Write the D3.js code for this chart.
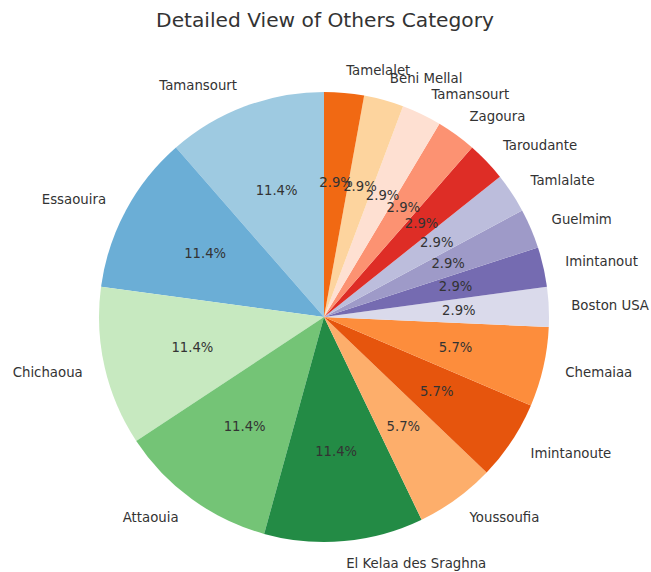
<!DOCTYPE html>
<html>
<head>
<meta charset="utf-8">
<script src="https://cdn.jsdelivr.net/npm/d3@7/dist/d3.min.js"></script>
<style>
  html, body { margin: 0; padding: 0; background: #fff; }
  svg { display: block; }
  text { font-family: "DejaVu Sans", sans-serif; fill: #333; }
</style>
</head>
<body>
<svg id="chart" width="651" height="572"></svg>
<script>
// Cities in the "Others" group, counted counter-clockwise from 12 o'clock
const categories = [
  "Tamansourt", "Essaouira", "Chichaoua", "Attaouia", "El Kelaa des Sraghna",
  "Youssoufia", "Imintanoute", "Chemaiaa", "Boston USA", "Imintanout",
  "Guelmim", "Tamlalate", "Taroudante", "Zagoura", "Tamansourt",
  "Beni Mellal", "Tamelalet"
];
const counts = [4, 4, 4, 4, 4, 2, 2, 2, 1, 1, 1, 1, 1, 1, 1, 1, 1];
const colors = [
  "#9ecae1", "#6baed6", "#c7e9c0", "#74c476", "#238b45",
  "#fdae6b", "#e6550d", "#fd8d3c", "#dadaeb", "#756bb1",
  "#9e9ac8", "#bcbddc", "#de2d26", "#fc9272", "#fee0d2",
  "#fdd49e", "#f16913"
];
const title = "Detailed View of Others Category";

const svg = d3.select("#chart");
const cx = 324, cy = 317, r = 225;

svg.append("text")
  .attr("x", 325).attr("y", 27)
  .attr("text-anchor", "middle")
  .style("font-size", "20.2px")
  .text(title);

const data = categories.map((c, i) => ({ name: c, value: counts[i], color: colors[i] }));
const total = d3.sum(counts);

const pie = d3.pie().value(d => d.value).sort(null)
  .startAngle(0).endAngle(-2 * Math.PI);
const arcs = pie(data);
const arc = d3.arc().innerRadius(0).outerRadius(r);

const g = svg.append("g").attr("transform", `translate(${cx},${cy})`);

g.selectAll("path.slice")
  .data(arcs)
  .join("path")
  .attr("class", "slice")
  .attr("d", arc)
  .attr("fill", d => d.data.color);

const mid = d => (d.startAngle + d.endAngle) / 2;

// Percentage labels inside each wedge
g.selectAll("text.pct")
  .data(arcs)
  .join("text")
  .attr("class", "pct")
  .attr("x", d => Math.sin(mid(d)) * r * 0.6)
  .attr("y", d => -Math.cos(mid(d)) * r * 0.6)
  .attr("text-anchor", "middle")
  .attr("dominant-baseline", "central")
  .style("font-size", "13.2px")
  .text(d => (d.value / total * 100).toFixed(1) + "%");

// Category labels just outside the rim
g.selectAll("text.lbl")
  .data(arcs)
  .join("text")
  .attr("class", "lbl")
  .attr("x", d => Math.sin(mid(d)) * r * 1.1)
  .attr("y", d => -Math.cos(mid(d)) * r * 1.1)
  .attr("text-anchor", d => Math.sin(mid(d)) > 0 ? "start" : "end")
  .attr("dominant-baseline", "central")
  .style("font-size", "13.3px")
  .text(d => d.data.name);
</script>
</body>
</html>
